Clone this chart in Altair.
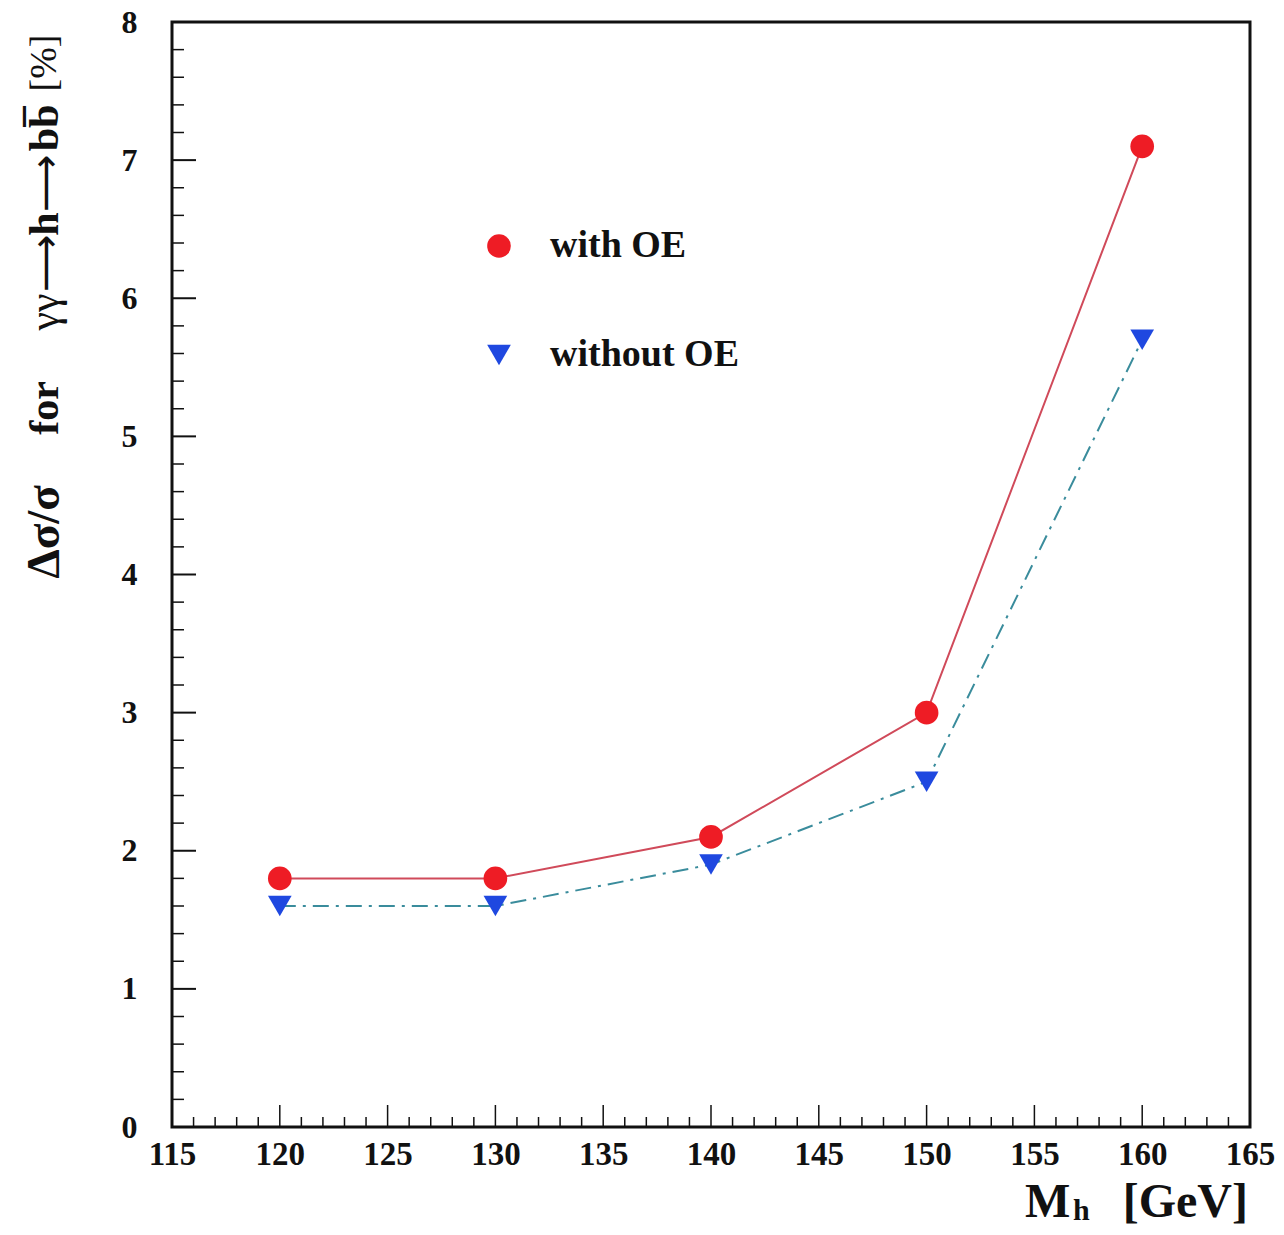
import altair as alt
import pandas as pd
import numpy as np

# data
mass = [120, 130, 140, 150, 160]
with_oe = [1.8, 1.8, 2.1, 3.0, 7.1]
without_oe = [1.6, 1.6, 1.9, 2.5, 5.7]
series_names = ["with OE", "without OE"]

# tick values
x_major = [115, 120, 125, 130, 135, 140, 145, 150, 155, 160, 165]
x_minor = [v for v in range(115, 166) if v % 5 != 0]
y_major = [0, 1, 2, 3, 4, 5, 6, 7, 8]
y_minor = [round(v, 1) for v in np.arange(0, 8.01, 0.2) if abs(v - round(v)) > 1e-6]

W, H = 1078, 1105
FONT = "Liberation Serif"
INK = "#111111"

df = pd.DataFrame({
    "M": mass * 2,
    "v": with_oe + without_oe,
    "s": [series_names[0]] * 5 + [series_names[1]] * 5,
})

xs = alt.Scale(domain=[115, 165], nice=False, zero=False)
ys = alt.Scale(domain=[0, 8], nice=False, zero=True)

xaxis = alt.Axis(values=x_major, ticks=False, domain=False, grid=False, labelFont=FONT,
                 labelFontSize=33, labelFontWeight="bold", labelColor=INK, labelFlush=False,
                 labelPadding=11, title=None, format="d")
yaxis = alt.Axis(values=y_major, ticks=False, domain=False, grid=False, labelFont=FONT,
                 labelFontSize=32, labelFontWeight="bold", labelColor=INK, labelFlush=False,
                 labelPadding=35, title=None, format="d")

line_with = alt.Chart(df[df.s == series_names[0]]).mark_line(
    color="#d04a5a", strokeWidth=2
).encode(x=alt.X("M:Q", scale=xs, axis=xaxis), y=alt.Y("v:Q", scale=ys, axis=yaxis))

line_without = alt.Chart(df[df.s == series_names[1]]).mark_line(
    color="#3a8c9c", strokeWidth=2, strokeDash=[16, 7, 3, 7]
).encode(x=alt.X("M:Q", scale=xs, axis=xaxis), y=alt.Y("v:Q", scale=ys, axis=yaxis))

points = alt.Chart(df).mark_point(filled=True, opacity=1, size=560).encode(
    x=alt.X("M:Q", scale=xs, axis=xaxis),
    y=alt.Y("v:Q", scale=ys, axis=yaxis),
    color=alt.Color("s:N", scale=alt.Scale(domain=series_names, range=["#ee1c25", "#1f48e0"]),
                    legend=alt.Legend(orient="none", legendX=308, legendY=205, title=None,
                                      labelFont=FONT, labelFontSize=38, labelFontWeight="bold",
                                      labelColor=INK, labelLimit=0, symbolSize=560,
                                      symbolStrokeWidth=0, rowPadding=71, labelOffset=32,
                                      padding=0)),
    shape=alt.Shape("s:N", scale=alt.Scale(domain=series_names, range=["circle", "triangle-down"]),
                    legend=None),
    order=alt.Order("o:Q"),
).transform_calculate(o="datum.s == 'with OE' ? 0 : 1")

# inward ticks
ymaj = alt.Chart(pd.DataFrame({"t": y_major})).mark_rule(color=INK, strokeWidth=2).encode(
    y=alt.Y("t:Q", scale=ys, axis=yaxis), x=alt.value(0), x2=alt.value(24))
ymin = alt.Chart(pd.DataFrame({"t": y_minor})).mark_rule(color=INK, strokeWidth=1.5).encode(
    y=alt.Y("t:Q", scale=ys, axis=yaxis), x=alt.value(0), x2=alt.value(12))
xmaj = alt.Chart(pd.DataFrame({"t": x_major})).mark_rule(color=INK, strokeWidth=1.5).encode(
    x=alt.X("t:Q", scale=xs, axis=xaxis), y=alt.value(H), y2=alt.value(H - 22))
xmin = alt.Chart(pd.DataFrame({"t": x_minor})).mark_rule(color=INK, strokeWidth=1.5).encode(
    x=alt.X("t:Q", scale=xs, axis=xaxis), y=alt.value(H), y2=alt.value(H - 10))


def label(text, x, y, size, weight="bold", angle=0, align="center", baseline="middle", font=FONT):
    kw = dict(align=align, baseline=baseline, font=font, fontSize=size, color=INK)
    if weight:
        kw["fontWeight"] = weight
    if angle:
        kw["angle"] = angle
    return alt.Chart(pd.DataFrame({"t": [text]})).mark_text(**kw).encode(
        text="t:N", x=alt.value(x), y=alt.value(y))


# y title pieces (rotated); positions relative to plot origin (172, 22)
TX = 45 - 172
ytitle = [
    label("\u0394\u03c3/\u03c3", TX, 532 - 22, 47, angle=270),
    label("for", TX, 408 - 22, 42, angle=270),
    label("\u03b3\u03b3", TX, 312 - 22, 42, angle=270, weight="normal"),
    label("\u27f6", TX + 2, 263 - 22, 40, angle=270, weight="normal", font="DejaVu Sans"),
    label("h", TX, 224 - 22, 42, angle=270),
    label("\u27f6", TX + 2, 183 - 22, 40, angle=270, weight="normal", font="DejaVu Sans"),
    label("bb\u0305", TX, 128 - 22, 42, angle=270),
    label("[%]", TX, 63 - 22, 38, angle=270, weight="normal"),
]

# x title pieces
xtitle = [
    label("M", 1025 - 172, 1217 - 22, 48, align="left", baseline="alphabetic"),
    label("h", 1073 - 172, 1220 - 22, 30, align="left", baseline="alphabetic"),
    label("[GeV]", 1248 - 172, 1217 - 22, 48, align="right", baseline="alphabetic"),
]

chart = alt.layer(
    line_with, line_without, points, ymaj, ymin, xmaj, xmin, *ytitle, *xtitle
).properties(
    width=W, height=H,
    padding={"left": 164, "top": 14, "right": 26, "bottom": 99},
    autosize=alt.AutoSizeParams(type="none"),
).configure(background="white").configure_view(stroke=INK, strokeWidth=3)

chart.save("out.html", embed_options={"renderer": "svg", "actions": False})
